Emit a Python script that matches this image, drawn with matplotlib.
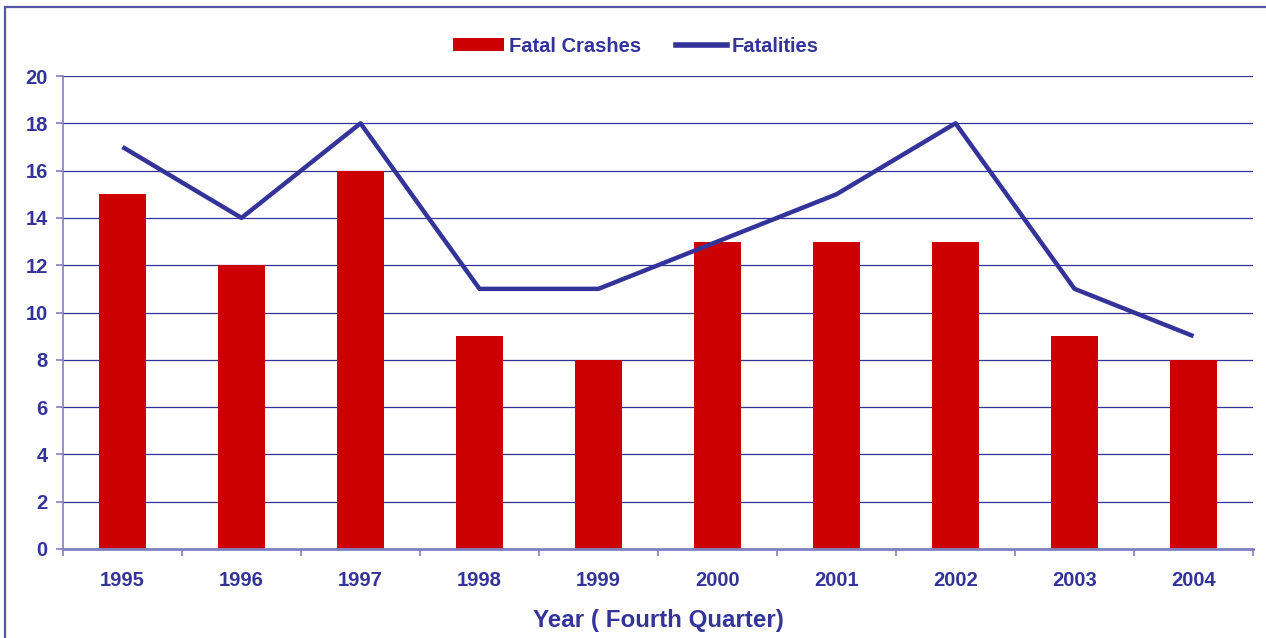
import matplotlib
matplotlib.use("Agg")
import matplotlib.pyplot as plt
import numpy as np
from matplotlib.patches import Rectangle
from matplotlib.lines import Line2D
from matplotlib.patches import Patch

years = ["1995", "1996", "1997", "1998", "1999", "2000", "2001", "2002", "2003", "2004"]
fatal_crashes = [15, 12, 16, 9, 8, 13, 13, 13, 9, 8]
fatalities = [17, 14, 18, 11, 11, 13, 15, 18, 11, 9]
y_ticks = [0, 2, 4, 6, 8, 10, 12, 14, 16, 18, 20]

navy = "#333399"
light = "#8080c0"
red = "#CC0000"

plt.rcParams['font.family'] = ['Liberation Sans', 'DejaVu Sans']

fig = plt.figure(figsize=(12.66, 6.38), dpi=100)
W, H = 1266, 638
ax = fig.add_axes([63 / W, 1 - 549 / H, (1253 - 63) / W, (549 - 76) / H])

x = np.arange(len(years))
ax.bar(x, fatal_crashes, width=0.40, color=red, zorder=2)
ax.plot(x, fatalities, color=navy, lw=3.2, zorder=3, solid_capstyle='butt')

ax.set_xlim(-0.5, len(years) - 0.5)
ax.set_ylim(0, 20)
ax.set_yticks(y_ticks)
ax.set_yticklabels([str(v) for v in y_ticks])
ax.yaxis.grid(True, color=navy, lw=0.9, zorder=0)
ax.set_axisbelow(True)

ax.set_xticks(x)
ax.set_xticklabels(years)
ax.set_xticks(np.arange(-0.5, len(years)), minor=True)
ax.tick_params(axis='x', which='major', length=0, pad=16, labelsize=14.5, labelcolor=navy)
ax.tick_params(axis='x', which='minor', length=5, width=1.2, color=light, direction='out')
ax.tick_params(axis='y', length=5, width=1.2, color=light, pad=6, labelsize=14.5, labelcolor=navy)
for lab in ax.get_xticklabels() + ax.get_yticklabels():
    lab.set_fontweight('bold')

for s in ['top', 'right']:
    ax.spines[s].set_visible(False)
ax.spines['left'].set_color(light)
ax.spines['left'].set_linewidth(1.2)
ax.spines['bottom'].set_color(light)
ax.spines['bottom'].set_linewidth(2)

ax.set_xlabel("Year ( Fourth Quarter)", fontsize=17.4, fontweight='bold', color=navy, labelpad=13.5)

handles = [Patch(facecolor=red, edgecolor='none'), Line2D([0], [0], color=navy, lw=4)]
leg = fig.legend(handles, ["Fatal Crashes", "Fatalities"], loc='center', bbox_to_anchor=(636 / W, 1 - 46 / H),
                 ncol=2, frameon=False, fontsize=14.5, handlelength=2.5, handleheight=0.65,
                 handletextpad=0.25, columnspacing=1.75, borderpad=0, borderaxespad=0)
for t in leg.get_texts():
    t.set_color(navy)
    t.set_fontweight('bold')

fig.patches.append(Rectangle((5 / W, -0.1), 1.2, 1 - 7 / H + 0.1, transform=fig.transFigure,
                             fill=False, edgecolor="#5555aa", lw=1.6))

fig.savefig("out.png", dpi=100)
